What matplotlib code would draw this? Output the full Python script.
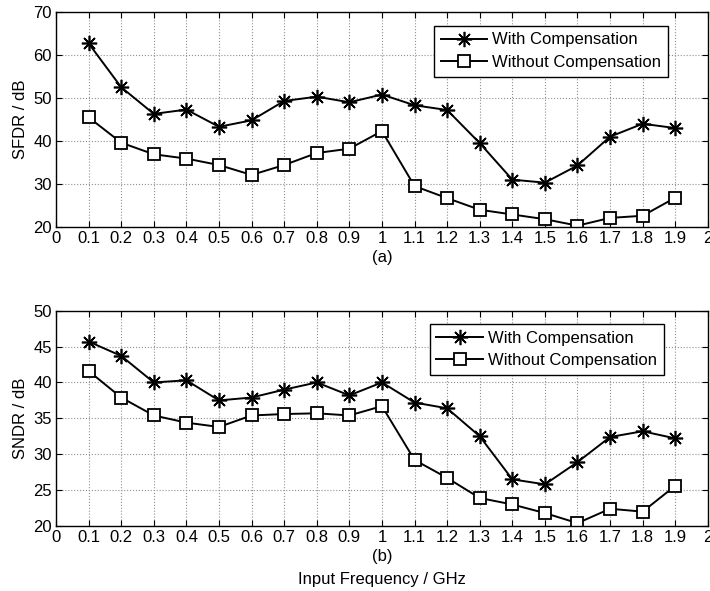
import numpy as np
from matplotlib import pyplot as plt

plt.rcParams['font.family'] = ['Liberation Sans', 'DejaVu Sans']

# input frequency in GHz
freq = [0.1, 0.2, 0.3, 0.4, 0.5, 0.6, 0.7, 0.8, 0.9, 1.0,
        1.1, 1.2, 1.3, 1.4, 1.5, 1.6, 1.7, 1.8, 1.9]

# SFDR (dB)
sfdr_with = [62.7, 52.5, 46.3, 47.3, 43.3, 44.8, 49.3, 50.3, 49.0, 50.8,
             48.3, 47.2, 39.5, 31.0, 30.3, 34.3, 41.0, 44.0, 43.0]
sfdr_without = [45.5, 39.6, 36.9, 35.9, 34.4, 32.1, 34.4, 37.2, 38.2, 42.3,
                29.5, 26.7, 24.0, 22.9, 21.8, 20.3, 22.1, 22.6, 26.8]

# SNDR (dB)
sndr_with = [45.7, 43.7, 40.0, 40.3, 37.5, 37.9, 39.0, 40.0, 38.2, 40.0,
             37.2, 36.4, 32.5, 26.5, 25.8, 28.9, 32.4, 33.2, 32.2]
sndr_without = [41.6, 37.9, 35.4, 34.4, 33.8, 35.4, 35.6, 35.7, 35.4, 36.7,
                29.2, 26.7, 23.9, 23.0, 21.8, 20.4, 22.4, 22.0, 25.6]

xticks = np.round(np.arange(0, 2.01, 0.1), 1)
xtick_labels = ['%g' % t for t in xticks]

fig = plt.figure(figsize=(7.1, 5.91), dpi=100)

ax1 = fig.add_axes([0.0789, 0.616, 0.9181, 0.3637])
ax2 = fig.add_axes([0.0789, 0.110, 0.9181, 0.3643])


def style_axis(ax, ylim, yticks, ylabel):
    ax.set_xlim(0, 2)
    ax.set_ylim(*ylim)
    ax.set_xticks(xticks)
    ax.set_xticklabels(xtick_labels)
    ax.set_yticks(yticks)
    ax.set_ylabel(ylabel, fontsize=12, labelpad=4)
    ax.tick_params(direction='in', top=True, right=True, length=4,
                   labelsize=12, pad=3)
    ax.grid(True, linestyle=':', color='#909090', linewidth=0.8)
    for sp in ax.spines.values():
        sp.set_linewidth(1.0)


def add_legend(ax, anchor):
    leg = ax.legend(loc='upper right', bbox_to_anchor=anchor, fontsize=12,
                    frameon=True, fancybox=False, edgecolor='black',
                    framealpha=1, handlelength=2.8, handletextpad=0.3,
                    borderpad=0.4, labelspacing=0.45, borderaxespad=0)
    leg.get_frame().set_linewidth(1.0)


# top plot: SFDR
ax1.plot(freq, sfdr_with, color='black', lw=1.4, marker=(8, 2, 0),
         ms=11, mew=1.2, label='With Compensation')
ax1.plot(freq, sfdr_without, color='black', lw=1.4, marker='s', ms=8,
         mfc='white', mec='black', mew=1.3, label='Without Compensation')
style_axis(ax1, (20, 70), [20, 30, 40, 50, 60, 70], 'SFDR / dB')
ax1.set_xlabel('(a)', fontsize=12, labelpad=3)
add_legend(ax1, (0.939, 0.936))

# bottom plot: SNDR
ax2.plot(freq, sndr_with, color='black', lw=1.4, marker=(8, 2, 0),
         ms=11, mew=1.2, label='With Compensation')
ax2.plot(freq, sndr_without, color='black', lw=1.4, marker='s', ms=8,
         mfc='white', mec='black', mew=1.3, label='Without Compensation')
style_axis(ax2, (20, 50), [20, 25, 30, 35, 40, 45, 50], 'SNDR / dB')
ax2.set_xlabel('(b)', fontsize=12, labelpad=3)
add_legend(ax2, (0.932, 0.938))

fig.text(0.538, 0.006, 'Input Frequency / GHz', ha='center', va='bottom',
         fontsize=12)

fig.savefig('out.png', dpi=100)
